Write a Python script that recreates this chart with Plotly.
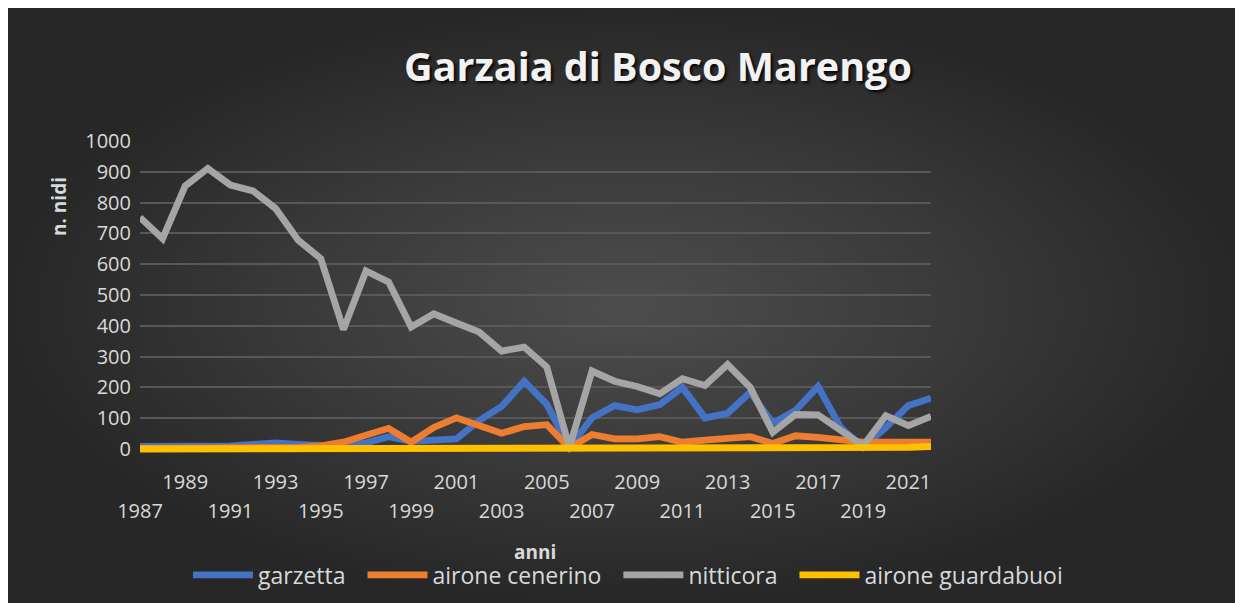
import plotly.graph_objects as go

years = list(range(1987, 2023))

garzetta = [8, 8, 12, 8, 10, 15, 20, 15, 10, 8, 20, 40, 25, 27, 33, 92, 138, 220, 145, 5,
            101, 141, 127, 144, 200, 101, 116, 184, 84, 125, 203, 70, 5, 70, 141, 165]
airone_cenerino = [2, 2, 2, 2, 2, 3, 3, 5, 10, 22, 45, 67, 22, 70, 101, 76, 51, 73, 79, 3,
                   47, 33, 33, 40, 22, 29, 33, 40, 18, 43, 38, 30, 22, 22, 20, 22]
nitticora = [752, 683, 854, 911, 857, 838, 781, 678, 618, 388, 578, 542, 396, 439, 409, 380,
             318, 331, 266, 5, 253, 220, 203, 179, 228, 206, 274, 200, 54, 112, 111, 62, 10,
             108, 76, 106]
airone_guardabuoi = [0, 0, 0, 0, 0, 0, 0, 0, 0, 0, 0, 0, 0, 0, 0, 0, 0, 0, 0, 0,
                     0, 0, 0, 0, 0, 0, 0, 0, 0, 0, 0, 0, 0, 2, 5, 8]

series_names = ["garzetta", "airone cenerino", "nitticora", "airone guardabuoi"]
series_values = [garzetta, airone_cenerino, nitticora, airone_guardabuoi]
series_colors = ["#4472C4", "#ED7D31", "#A5A5A5", "#FFC000"]

ticks_row1 = list(range(1989, 2023, 4))
ticks_row2 = list(range(1987, 2023, 4))
y_ticks = list(range(0, 1001, 100))

# page body has an 8px margin, so the figure is sized/positioned in shifted coords
OFF = 8
W, H = 1243 - OFF, 603 - OFF


def px(x):
    return (x - OFF) / W


def py(y):
    return 1 - (y - OFF) / H


tick_font = dict(family="Open Sans", size=20, color="#d9d9d9")
NB = "\u00a0\u00a0"

fig = go.Figure()

# background panel with radial gradient
fig.add_trace(go.Scatter(
    x=[0, 1, 1, 0], y=[0, 0, 1, 1], fill="toself", mode="lines",
    line=dict(width=0), hoverinfo="skip", showlegend=False,
    fillgradient=dict(type="radial",
                      colorscale=[[0, "#4d4d4d"], [0.5, "#3b3b3b"], [1, "#272727"]]),
    xaxis="x", yaxis="y"))

for i, (name, vals, col) in enumerate(zip(series_names, series_values, series_colors)):
    fig.add_trace(go.Scatter(
        x=years, y=vals, name=name + (NB if i < 3 else ""), mode="lines",
        line=dict(color=col, width=6.8),
        xaxis="x3" if i == 3 else "x2", yaxis="y2"))

fig.update_layout(
    width=W, height=H,
    margin=dict(l=0, r=0, t=0, b=0, autoexpand=False),
    paper_bgcolor="#2a2a2a", plot_bgcolor="rgba(0,0,0,0)",
    title=dict(text="Garzaia di Bosco Marengo", x=px(658), xanchor="center",
               y=py(67), yanchor="middle",
               font=dict(family="Open Sans", size=39.5, color="#f2f2f2", weight="bold",
                         shadow="2px 2px 3px rgba(0,0,0,0.9)")),
    legend=dict(orientation="h", x=px(628), xanchor="center", y=py(575),
                yanchor="middle", itemwidth=60, bgcolor="rgba(0,0,0,0)",
                font=dict(family="Open Sans", size=23, color="#d9d9d9")),
    xaxis=dict(domain=[0, 1], range=[0, 1], visible=False, fixedrange=True,
               automargin=False),
    yaxis=dict(domain=[0, 1], range=[0, 1], visible=False, fixedrange=True,
               automargin=False),
    xaxis2=dict(domain=[px(140), px(931)], anchor="y2", range=[1987, 2022],
                tickmode="array", tickvals=ticks_row1, ticktext=[str(t) for t in ticks_row1],
                showgrid=False, zeroline=False, showline=False, ticks="",
                tickfont=tick_font, ticklabelstandoff=14, automargin=False),
    xaxis3=dict(overlaying="x2", anchor="y2", range=[1987, 2022],
                tickmode="array", tickvals=ticks_row2, ticktext=[str(t) for t in ticks_row2],
                showgrid=False, zeroline=False, showline=False, ticks="",
                tickfont=tick_font, ticklabelstandoff=43, automargin=False),
    yaxis2=dict(domain=[py(453.6), py(141)], anchor="x2", range=[-15, 1000],
                tickmode="array", tickvals=y_ticks, showgrid=True, gridcolor="#585858",
                gridwidth=1.5, zeroline=False, showline=False, ticks="",
                tickfont=tick_font, ticklabelstandoff=8, automargin=False),
    annotations=[
        dict(text="<b>n. nidi</b>", x=px(59), y=py(207), xref="paper", yref="paper",
             textangle=-90, showarrow=False, xanchor="center", yanchor="middle",
             font=dict(family="Open Sans", size=19, color="#d9d9d9")),
        dict(text="<b>anni</b>", x=px(535), y=py(552), xref="paper", yref="paper",
             showarrow=False, xanchor="center", yanchor="middle",
             font=dict(family="Open Sans", size=19, color="#d9d9d9")),
    ],
)

fig.write_html("out.html")
